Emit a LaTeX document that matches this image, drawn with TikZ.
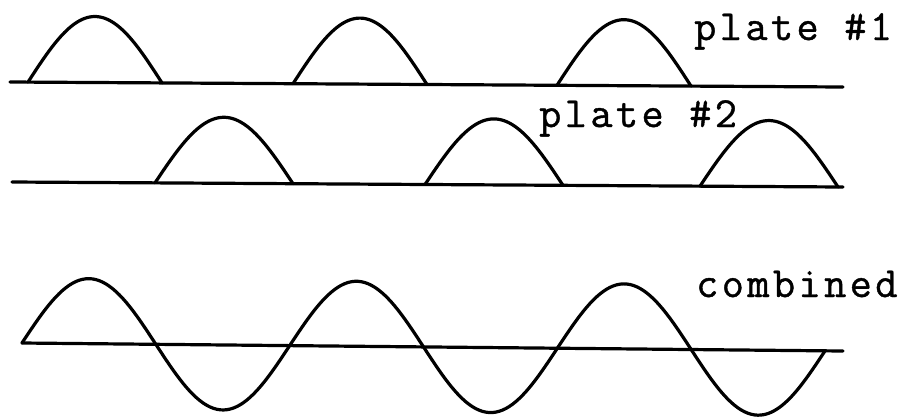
\documentclass[tikz,border=0pt]{standalone}
\usepackage{fontspec}
\setmonofont{Latin Modern Mono}[LetterSpace=8,FakeBold=1]
\begin{document}
\begin{tikzpicture}[x=1pt,y=-1pt,
  wave/.style={line width=3.2pt, line join=round, line cap=round},
  lbl/.style={font=\ttfamily\fontsize{43}{43}\selectfont, anchor=base west, inner sep=0pt}]
\useasboundingbox (0,0) rectangle (901,416);
% plate 1
\coordinate (p1a) at (10,82);
\coordinate (p1b) at (843,87);
\draw[wave] (p1a) -- (p1b);
\foreach \s in {28,293,557}
  \draw[wave,domain=0:134,samples=60,variable=\t]
    plot ({\s+\t},{82+5*(\s+\t-10)/833-66*sin(\t/134*180)});
\node[lbl] (l1) at (694,40) {plate \#1};
% plate 2
\coordinate (p2a) at (12,182);
\coordinate (p2b) at (843,187);
\draw[wave] (p2a) -- (p2b);
\foreach \s in {155,425,700}
  \draw[wave,domain=0:138,samples=60,variable=\t]
    plot ({\s+\t},{182+5*(\s+\t-12)/831-66*sin(\t/138*180)});
\node[lbl] (l2) at (539,127) {plate \#2};
% combined
\coordinate (c0) at (22,343);
\coordinate (c1) at (843,351);
\draw[wave] (c0) -- (c1);
\draw[wave,domain=22:825,samples=240,variable=\t]
  plot ({\t},{343+8*(\t-22)/821-65*sin((\t-22)/267.67*360)});
\node[lbl] (l3) at (696,297) {combined};
\end{tikzpicture}
\end{document}
